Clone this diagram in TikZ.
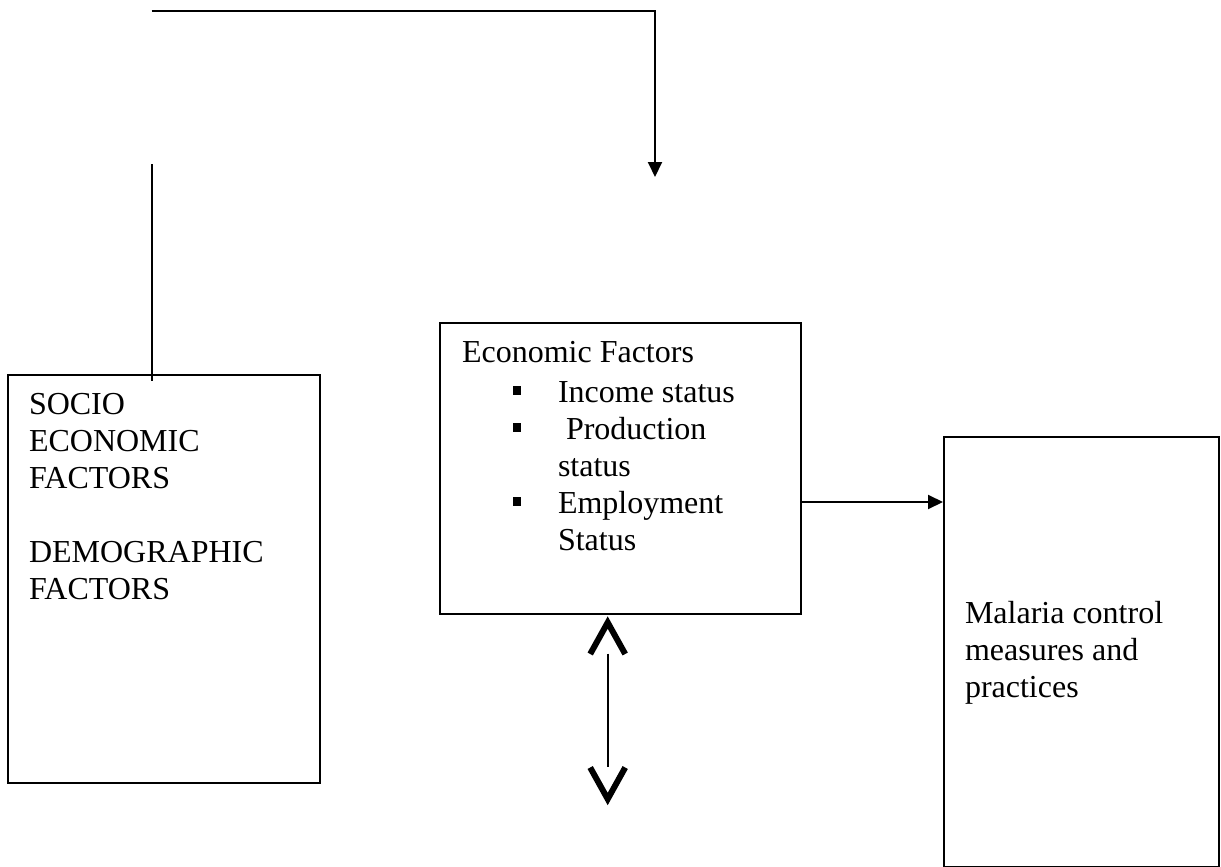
\documentclass[tikz,border=0pt]{standalone}
\usepackage{fontspec}
\setmainfont{Liberation Serif}
\usetikzlibrary{arrows.meta,calc}

\tikzset{every picture/.style={line width=1.5pt}}
\tikzset{
  box/.style={draw, rectangle, anchor=north west, inner sep=0pt},
  txt/.style={anchor=base west, inner sep=0pt},
  chevron/.style={line width=4.5pt, miter limit=10},
  >={Triangle[length=11.25pt,width=10.5pt]}
}
\newcommand{\txtbox}[1]{\parbox[t]{300pt}{\raggedright\fontsize{24pt}{27.75pt}\selectfont #1}}
\newcommand{\bulitem}[1]{\hspace*{38.25pt}\makebox[33.75pt][l]{\rule[5.6pt]{6.2pt}{6.2pt}}#1}
\newcommand{\bulcont}[1]{\hspace*{72pt}#1}

\begin{document}
\begin{tikzpicture}[x=0.75pt,y=0.75pt,yscale=-1,xscale=1]
\useasboundingbox (0,0) rectangle (1221,867);

%Boxes
\node [box, minimum width=234pt, minimum height=306pt] (socio) at (7,374) {};
\node [box, minimum width=270.75pt, minimum height=218.25pt] (econ) at (439,322) {};
\node [box, minimum width=206.25pt, minimum height=322.5pt] (malaria) at (943,436) {};

% Text Node
\node [txt] (sociotxt) at (28,414) {\txtbox{SOCIO\\ECONOMIC\\FACTORS\\[27.75pt]DEMOGRAPHIC\\FACTORS}};
% Text Node
\node [txt] (econtxt) at (461,362) {\txtbox{Economic Factors\\[2.25pt]
\bulitem{Income status}\\
\bulitem{~Production}\\
\bulcont{status}\\
\bulitem{Employment}\\
\bulcont{Status}}};
% Text Node
\node [txt] (malariatxt) at (964,623) {\txtbox{Malaria control\\measures and\\practices}};

%Free ends
\coordinate (topstart) at (151.5,11);
\coordinate (toptip) at (655,177);
\coordinate (lefttop) at (151.5,164);
\coordinate (leftend) at (151.5,381);
\coordinate (arrowy) at (0,502);
\coordinate (uptip) at (607.7,622.5);
\coordinate (downtip) at (607.7,799);

%Connectors
\draw [->] (topstart) -| (toptip);
\draw (lefttop) -- (leftend);
\draw [->] (econ.east |- arrowy) -- (malaria.west |- arrowy);

%Double chevron arrow
\draw (uptip) ++(0,31) -- ($(downtip)+(0,-32)$);
\draw [chevron] ($(uptip)+(-17.5,31.5)$) -- (uptip) -- ($(uptip)+(17.5,31.5)$);
\draw [chevron] ($(downtip)+(-17.5,-31.5)$) -- (downtip) -- ($(downtip)+(17.5,-31.5)$);

\end{tikzpicture}
\end{document}
